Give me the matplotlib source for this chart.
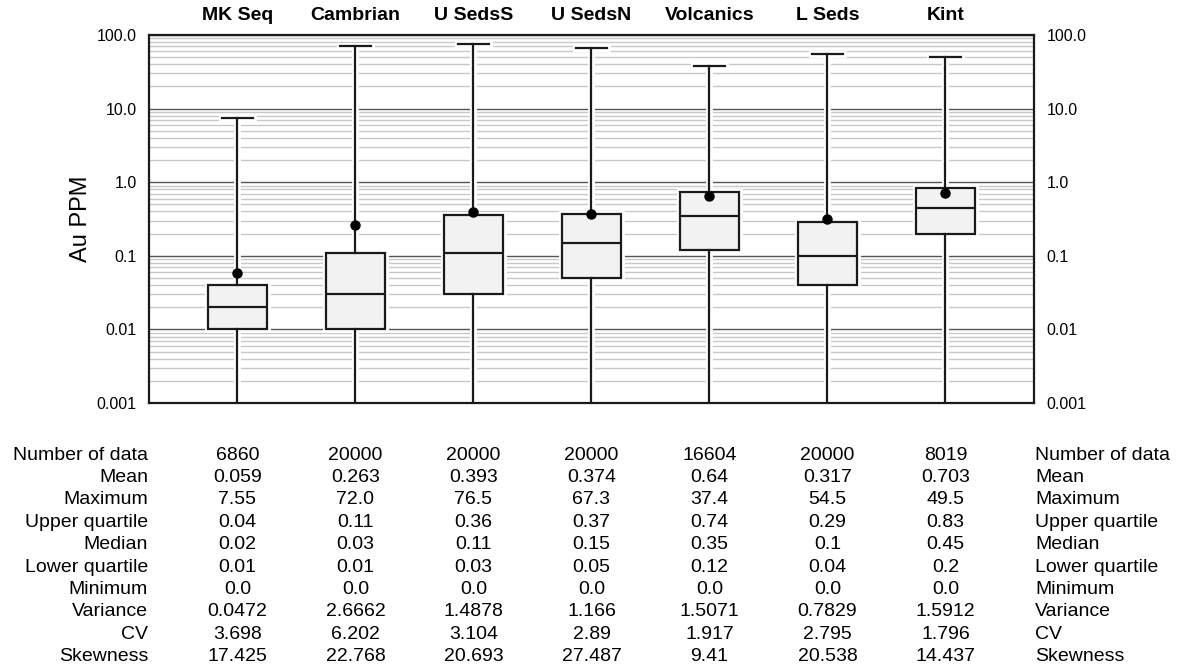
import numpy as np
import matplotlib
matplotlib.use('Agg')
import matplotlib.pyplot as plt

plt.rcParams['font.family'] = ['Liberation Sans', 'DejaVu Sans']

# Summary statistics per unit
units = ['MK Seq', 'Cambrian', 'U SedsS', 'U SedsN', 'Volcanics', 'L Seds', 'Kint']
n_data = ['6860', '20000', '20000', '20000', '16604', '20000', '8019']
mean = [0.059, 0.263, 0.393, 0.374, 0.64, 0.317, 0.703]
maximum = [7.55, 72.0, 76.5, 67.3, 37.4, 54.5, 49.5]
upper_q = [0.04, 0.11, 0.36, 0.37, 0.74, 0.29, 0.83]
median = [0.02, 0.03, 0.11, 0.15, 0.35, 0.1, 0.45]
lower_q = [0.01, 0.01, 0.03, 0.05, 0.12, 0.04, 0.2]
minimum = [0.0, 0.0, 0.0, 0.0, 0.0, 0.0, 0.0]
variance = ['0.0472', '2.6662', '1.4878', '1.166', '1.5071', '0.7829', '1.5912']
cv = ['3.698', '6.202', '3.104', '2.89', '1.917', '2.795', '1.796']
skewness = ['17.425', '22.768', '20.693', '27.487', '9.41', '20.538', '14.437']

ytick_vals = [0.001, 0.01, 0.1, 1.0, 10.0, 100.0]
ytick_labels = ['0.001', '0.01', '0.1', '1.0', '10.0', '100.0']

fig = plt.figure(figsize=(11.81, 6.68), dpi=100)
ax = fig.add_axes([149 / 1181, 1 - 403 / 668, 885 / 1181, 368 / 668])
ax.set_yscale('log')
ymin, ymax = 0.001, 100.0
ax.set_ylim(ymin, ymax)
pos = np.arange(1, len(units) + 1)
ax.set_xlim(0.25, len(units) + 0.75)

# gridlines
ax.yaxis.grid(True, which='major', color='#555555', lw=1.0)
ax.yaxis.grid(True, which='minor', color='#c8c8c8', lw=1.0)
ax.set_axisbelow(True)

stats = []
for i, u in enumerate(units):
    stats.append(dict(label=u, med=median[i], q1=lower_q[i], q3=upper_q[i],
                      whislo=max(minimum[i], ymin), whishi=maximum[i], fliers=[]))

# white halo first (leaves a small gap in the grid), then the boxes
for col, lw, z in [('white', 5.0, 1.5), ('#1a1a1a', 1.6, 2.0)]:
    bp = ax.bxp(stats, positions=pos, widths=0.5, patch_artist=True,
                showfliers=False, capwidths=0.27, zorder=z,
                boxprops=dict(facecolor='#f2f2f2', edgecolor=col, lw=lw),
                medianprops=dict(color=col, lw=lw),
                whiskerprops=dict(color=col, lw=lw),
                capprops=dict(color=col, lw=lw))
    for k, c in enumerate(bp['caps']):
        if k % 2 == 0:
            c.set_visible(False)

ax.plot(pos, mean, 'o', color='black', ms=6.5, zorder=5)

ax.set_yticks(ytick_vals, ytick_labels)
ax.yaxis.set_minor_formatter(matplotlib.ticker.NullFormatter())
ax.tick_params(axis='y', which='both', length=0, labelsize=11.5, pad=9,
               labelright=True)
ax.xaxis.tick_top()
ax.set_xticks(pos, units)
ax.tick_params(axis='x', length=0, labelsize=14, pad=8)
for t in ax.get_xticklabels():
    t.set_fontweight('bold')
ax.set_ylabel('Au PPM', fontsize=17, labelpad=3)
for s in ax.spines.values():
    s.set_linewidth(1.6)
    s.set_color('#1a1a1a')
    s.set_zorder(6)

# statistics table under the plot
rows = [('Number of data', n_data),
        ('Mean', [str(v) for v in mean]),
        ('Maximum', [str(v) for v in maximum]),
        ('Upper quartile', [str(v) for v in upper_q]),
        ('Median', [str(v) for v in median]),
        ('Lower quartile', [str(v) for v in lower_q]),
        ('Minimum', [str(v) for v in minimum]),
        ('Variance', variance),
        ('CV', cv),
        ('Skewness', skewness)]
trans = matplotlib.transforms.blended_transform_factory(ax.transData, fig.transFigure)
fs = 14
for r, (name, vals) in enumerate(rows):
    y = 1 - (455 + r * 22.4) / 668
    fig.text(148 / 1181, y, name, ha='right', va='center', fontsize=fs)
    fig.text(1035 / 1181, y, name, ha='left', va='center', fontsize=fs)
    for i, v in enumerate(vals):
        ax.text(pos[i], y, v, transform=trans, ha='center', va='center',
                fontsize=fs, clip_on=False)

fig.savefig('out.png', dpi=100)
